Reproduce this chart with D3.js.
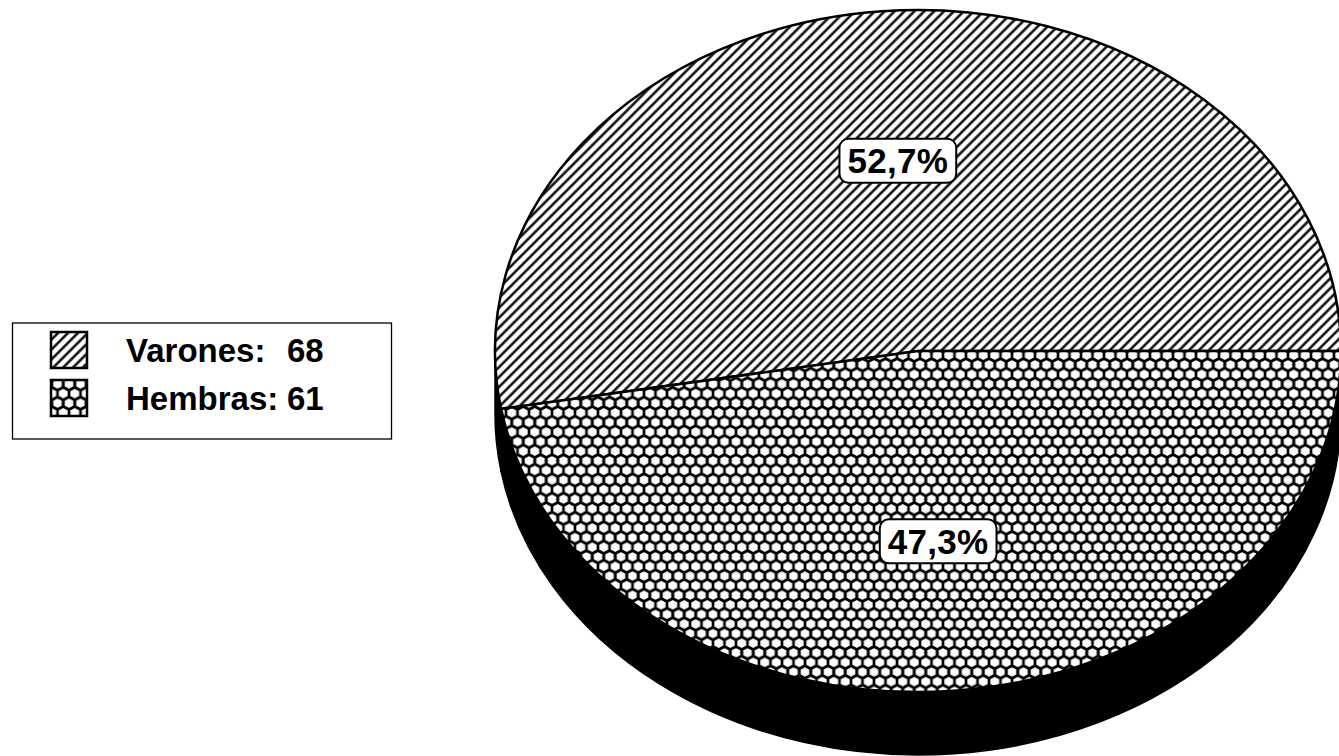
<!DOCTYPE html>
<html>
<head>
<meta charset="utf-8">
<script src="https://cdn.jsdelivr.net/npm/d3@7"></script>
<style>
  html, body { margin: 0; padding: 0; background: #fff; }
  svg { display: block; }
  text { font-family: "Liberation Sans", Arial, sans-serif; font-weight: bold; fill: #000; }
</style>
</head>
<body>
<svg id="chart" width="1339" height="756"></svg>
<script>
// Data
const categories = ["Varones", "Hembras"];
const values = [68, 61];
const patterns = ["hatch", "honey"];

const W = 1339, H = 756;
const svg = d3.select("#chart");
const defs = svg.append("defs");

// Diagonal hatch
const hatch = defs.append("pattern")
  .attr("id", "hatch")
  .attr("patternUnits", "userSpaceOnUse")
  .attr("width", 20).attr("height", 7)
  .attr("patternTransform", "rotate(-45)");
hatch.append("rect").attr("width", 20).attr("height", 7).attr("fill", "#fff");
hatch.append("line")
  .attr("x1", 0).attr("x2", 20).attr("y1", 3.5).attr("y2", 3.5)
  .attr("stroke", "#000").attr("stroke-width", 2.4);

// Honeycomb mesh
const hw = 11.5, hs = 6.4, hh = 3 * hs;
const honey = defs.append("pattern")
  .attr("id", "honey")
  .attr("patternUnits", "userSpaceOnUse")
  .attr("width", hw).attr("height", hh);
honey.append("rect").attr("width", hw).attr("height", hh).attr("fill", "#fff");
function hexPath(cx, cy) {
  const a = hw / 2;
  const pts = [[cx, cy - hs], [cx + a, cy - hs / 2], [cx + a, cy + hs / 2],
               [cx, cy + hs], [cx - a, cy + hs / 2], [cx - a, cy - hs / 2]];
  return "M" + pts.map(p => p.join(",")).join("L") + "Z";
}
[[0, 0], [hw, 0], [hw / 2, 1.5 * hs], [0, hh], [hw, hh]].forEach(([x, y]) => {
  honey.append("path").attr("d", hexPath(x, y))
    .attr("fill", "none").attr("stroke", "#000").attr("stroke-width", 2.6)
    .attr("stroke-linejoin", "round");
});

// Pie geometry (tilted, with depth)
const cx = 918, cy = 351, rx = 423, ry = 341, depth = 63;
const pie = d3.pie().sort(null)
  .startAngle(Math.PI / 2 + 2 * Math.PI)
  .endAngle(Math.PI / 2);
const arcs = pie(values);

const pt = (a, dy = 0) => [cx + rx * Math.sin(a), cy - ry * Math.cos(a) + dy];

const g = svg.append("g");

// Side wall: only the front half is visible
const vis0 = Math.PI / 2, vis1 = 3 * Math.PI / 2;
arcs.forEach(d => {
  const lo = Math.min(d.startAngle, d.endAngle), hi = Math.max(d.startAngle, d.endAngle);
  for (let k = -1; k <= 2; k++) {
    const s = Math.max(lo, vis0 + 2 * Math.PI * k), e = Math.min(hi, vis1 + 2 * Math.PI * k);
    if (e - s > 1e-6) {
      const p0 = pt(s), p1 = pt(e), p2 = pt(e, depth), p3 = pt(s, depth);
      const large = (e - s) > Math.PI ? 1 : 0;
      g.append("path")
        .attr("d", `M${p0}A${rx},${ry} 0 ${large} 1 ${p1}L${p2}A${rx},${ry} 0 ${large} 0 ${p3}Z`)
        .attr("fill", "#000").attr("stroke", "#000").attr("stroke-width", 1.5);
    }
  }
});

// Top face slices
arcs.forEach((d, i) => {
  const p0 = pt(d.startAngle), p1 = pt(d.endAngle);
  const span = d.endAngle - d.startAngle;
  const large = Math.abs(span) > Math.PI ? 1 : 0;
  const sweep = span > 0 ? 1 : 0;
  g.append("path")
    .attr("d", `M${cx},${cy}L${p0}A${rx},${ry} 0 ${large} ${sweep} ${p1}Z`)
    .attr("fill", `url(#${patterns[i]})`)
    .attr("stroke", "#000").attr("stroke-width", 2.5)
    .attr("stroke-linejoin", "round");
});

// Percentage labels
const locale = d3.formatLocale({ decimal: ",", thousands: ".", grouping: [3], currency: ["", "€"] });
const fmt = locale.format(".1%");
const total = d3.sum(values);
arcs.forEach((d, i) => {
  const mid = (d.startAngle + d.endAngle) / 2;
  const [lx, ly] = [cx + 0.56 * rx * Math.sin(mid), cy - 0.56 * ry * Math.cos(mid)];
  const lg = g.append("g").attr("transform", `translate(${lx},${ly})`);
  const t = lg.append("text")
    .attr("text-anchor", "middle").attr("dy", "0.36em")
    .attr("font-size", 35).attr("letter-spacing", 0.3)
    .text(fmt(values[i] / total));
  const bb = t.node().getBBox();
  lg.insert("rect", "text")
    .attr("x", -bb.width / 2 - 8).attr("y", -22)
    .attr("width", bb.width + 16).attr("height", 44)
    .attr("rx", 9).attr("ry", 9)
    .attr("fill", "#fff").attr("stroke", "#000").attr("stroke-width", 2);
});

// Legend
const legend = svg.append("g");
legend.append("rect")
  .attr("x", 12.5).attr("y", 323).attr("width", 379).attr("height", 116)
  .attr("fill", "#fff").attr("stroke", "#000").attr("stroke-width", 1.3);
const rowY = d3.scalePoint().domain(categories).range([350, 398]);
categories.forEach((c, i) => {
  const y = rowY(c);
  legend.append("rect")
    .attr("x", 51).attr("y", y - 18).attr("width", 36).attr("height", 36)
    .attr("fill", `url(#${patterns[i]})`)
    .attr("stroke", "#000").attr("stroke-width", 2.5);
  legend.append("text")
    .attr("x", 126).attr("y", y + 12).attr("font-size", 33)
    .text(c + ":");
  legend.append("text")
    .attr("x", 287).attr("y", y + 12).attr("font-size", 33)
    .text(values[i]);
});
</script>
</body>
</html>
